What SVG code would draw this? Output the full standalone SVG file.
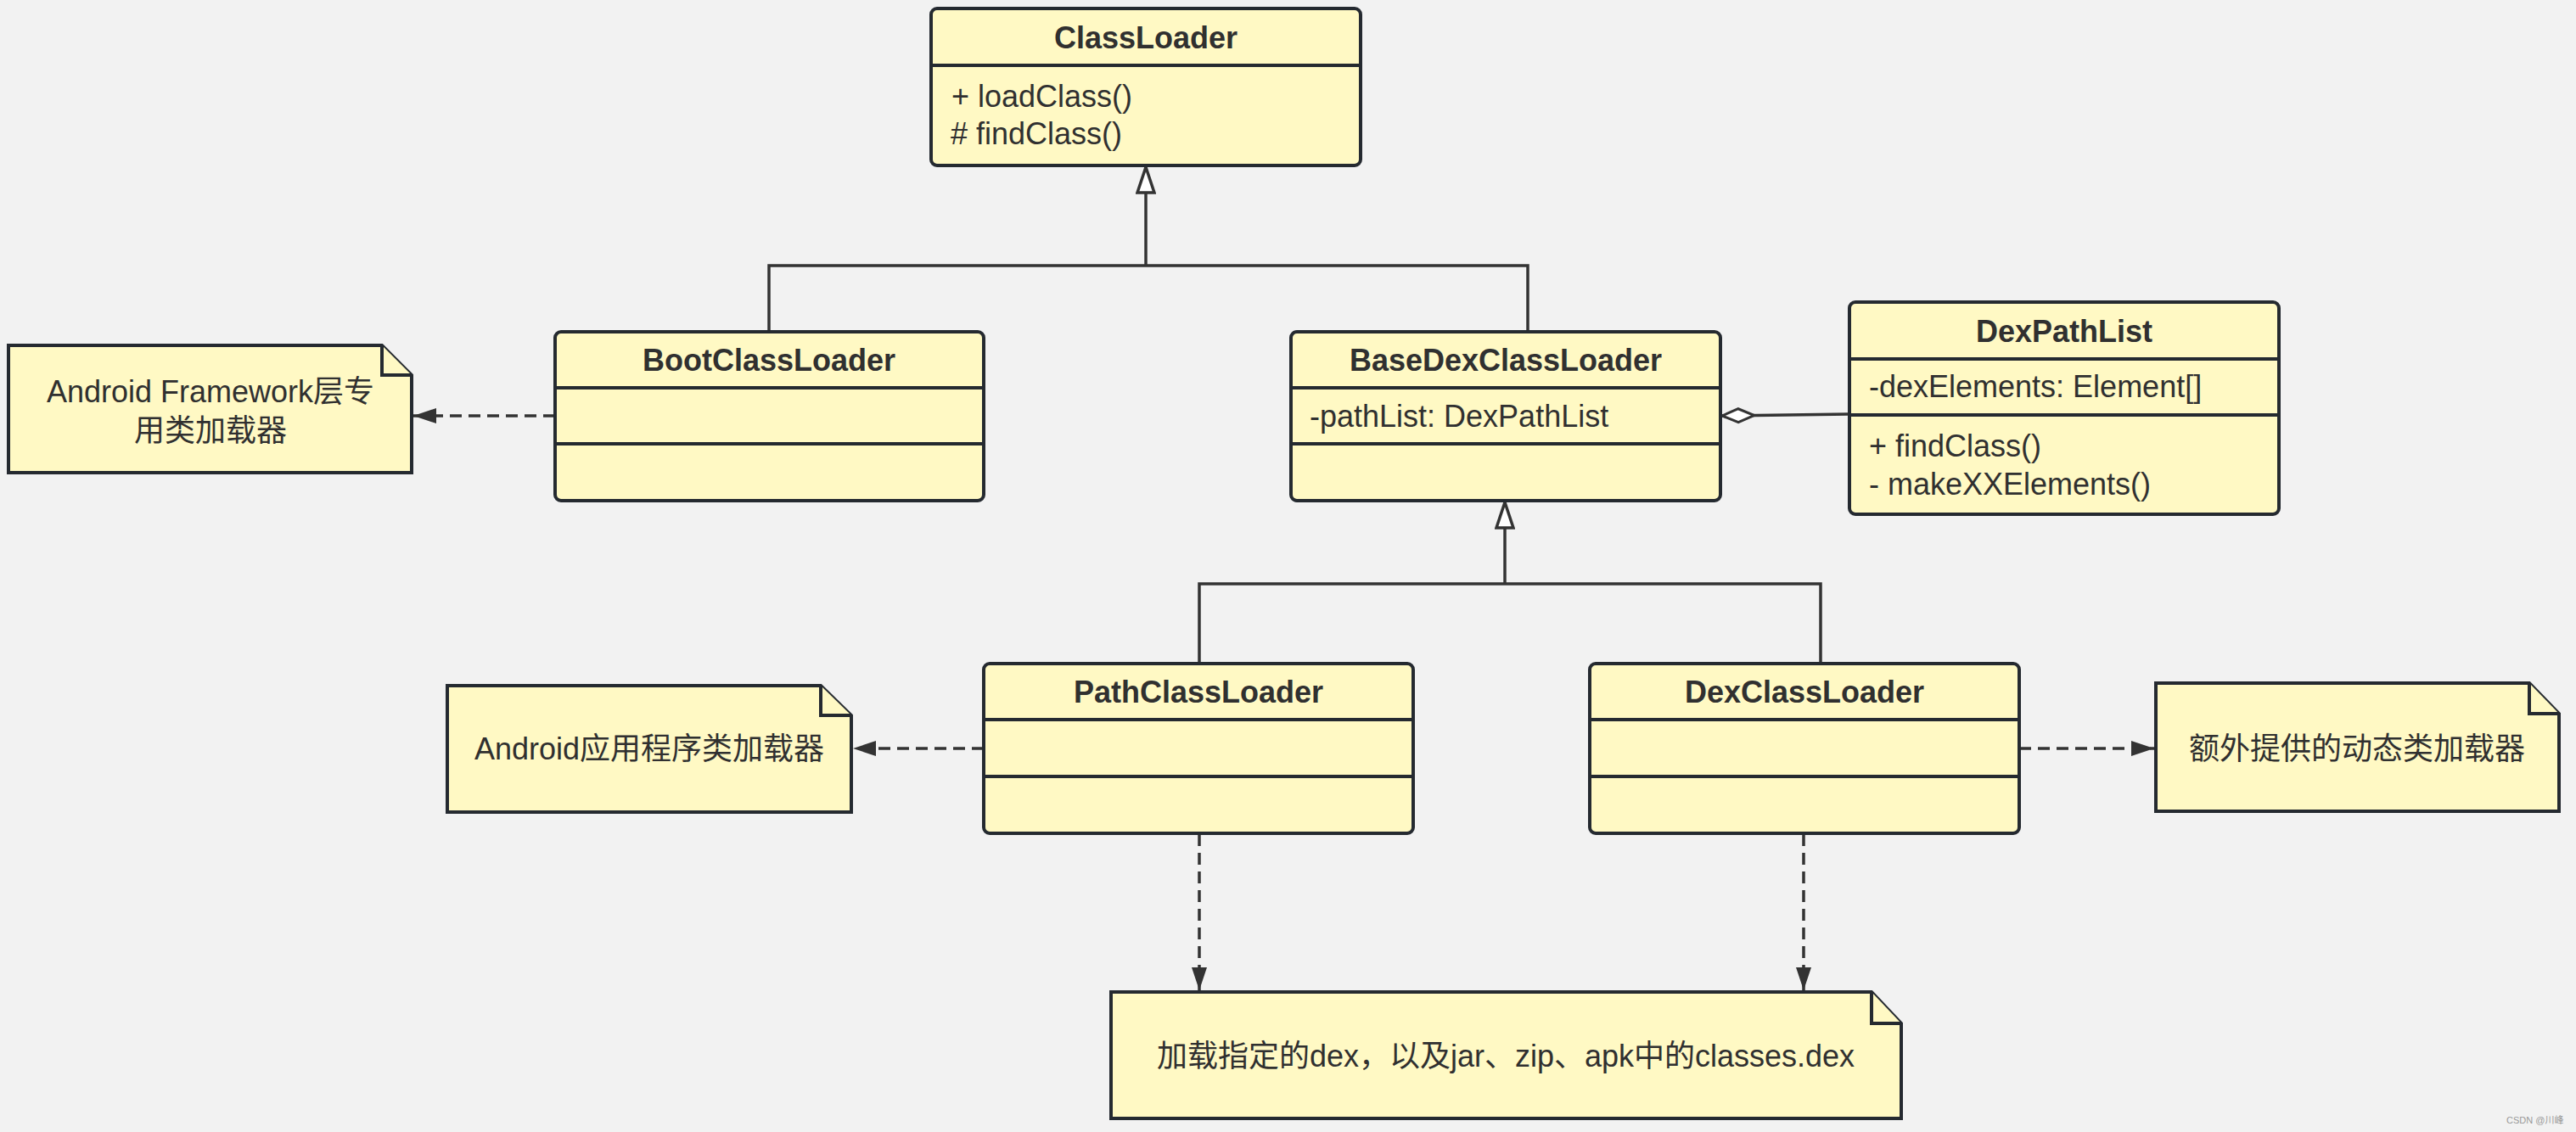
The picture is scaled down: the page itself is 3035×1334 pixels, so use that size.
<svg xmlns="http://www.w3.org/2000/svg" width="3035" height="1334" viewBox="0 0 3035 1334">
<style>
.box{fill:#fff9c4;stroke:#252a30;stroke-width:4}
.div{stroke:#252a30;stroke-width:4}
.title{font-family:"Liberation Sans","Noto Sans CJK SC",sans-serif;font-size:36px;font-weight:bold;fill:#303030;text-anchor:middle}
.mem{font-family:"Liberation Sans","Noto Sans CJK SC",sans-serif;font-size:36px;fill:#303030}
.note{font-family:"Liberation Sans","Noto Sans CJK SC",sans-serif;font-size:36px;fill:#303030;text-anchor:middle}
.conn{fill:none;stroke:#333;stroke-width:3.5}
.dash{stroke-dasharray:14 8}
</style>
<defs>
<marker id="gen" viewBox="0 0 34 24" refX="32" refY="12" markerWidth="34" markerHeight="24" markerUnits="userSpaceOnUse" orient="auto">
<path d="M2,2 L32,12 L2,22 Z" fill="#ffffff" stroke="#333" stroke-width="3.5"/>
</marker>
<marker id="arr" viewBox="0 0 27 18" refX="27" refY="9" markerWidth="27" markerHeight="18" markerUnits="userSpaceOnUse" orient="auto">
<path d="M0,0 L27,9 L0,18 Z" fill="#333"/>
</marker>
<marker id="dia" viewBox="0 0 42 22" refX="40" refY="11" markerWidth="42" markerHeight="22" markerUnits="userSpaceOnUse" orient="auto">
<path d="M2,11 L21,3 L40,11 L21,19 Z" fill="#ffffff" stroke="#333" stroke-width="3"/>
</marker>
</defs>
<rect width="3035" height="1334" fill="#f2f2f2"/>

<g id="connectors">
<path class="conn" d="M906,391 V313 H1800 V391"/>
<path class="conn" d="M1350,313 V197" marker-end="url(#gen)"/>
<path class="conn" d="M1413,782 V688 H2145 V782"/>
<path class="conn" d="M1773,688 V592" marker-end="url(#gen)"/>
<path class="conn" d="M2179,488 L2029,490" marker-end="url(#dia)"/>
<path class="conn dash" d="M654,490 H487" marker-end="url(#arr)"/>
<path class="conn dash" d="M1159,882 H1005" marker-end="url(#arr)"/>
<path class="conn dash" d="M2379,882 H2538" marker-end="url(#arr)"/>
<path class="conn dash" d="M1413,983 V1167" marker-end="url(#arr)"/>
<path class="conn dash" d="M2125,983 V1167" marker-end="url(#arr)"/>
</g>

<g id="ClassLoader">
<rect class="box" x="1097" y="10" width="506" height="185" rx="7"/>
<line class="div" x1="1097" y1="77" x2="1603" y2="77"/>
<text class="title" x="1350" y="57">ClassLoader</text>
<text class="mem" x="1121" y="126">+ loadClass()</text>
<text class="mem" x="1120" y="170"># findClass()</text>
</g>

<g id="BootClassLoader">
<rect class="box" x="654" y="391" width="505" height="199" rx="7"/>
<line class="div" x1="654" y1="457" x2="1159" y2="457"/>
<line class="div" x1="654" y1="523" x2="1159" y2="523"/>
<text class="title" x="906" y="437">BootClassLoader</text>
</g>

<g id="BaseDexClassLoader">
<rect class="box" x="1521" y="391" width="506" height="199" rx="7"/>
<line class="div" x1="1521" y1="457" x2="2027" y2="457"/>
<line class="div" x1="1521" y1="523" x2="2027" y2="523"/>
<text class="title" x="1774" y="437">BaseDexClassLoader</text>
<text class="mem" x="1543" y="503">-pathList: DexPathList</text>
</g>

<g id="DexPathList">
<rect class="box" x="2179" y="356" width="506" height="250" rx="7"/>
<line class="div" x1="2179" y1="423" x2="2685" y2="423"/>
<line class="div" x1="2179" y1="489" x2="2685" y2="489"/>
<text class="title" x="2432" y="403">DexPathList</text>
<text class="mem" x="2202" y="468">-dexElements: Element[]</text>
<text class="mem" x="2202" y="538">+ findClass()</text>
<text class="mem" x="2202" y="583">- makeXXElements()</text>
</g>

<g id="PathClassLoader">
<rect class="box" x="1159" y="782" width="506" height="200" rx="7"/>
<line class="div" x1="1159" y1="848" x2="1665" y2="848"/>
<line class="div" x1="1159" y1="915" x2="1665" y2="915"/>
<text class="title" x="1412" y="828">PathClassLoader</text>
</g>

<g id="DexClassLoader">
<rect class="box" x="1873" y="782" width="506" height="200" rx="7"/>
<line class="div" x1="1873" y1="848" x2="2379" y2="848"/>
<line class="div" x1="1873" y1="915" x2="2379" y2="915"/>
<text class="title" x="2126" y="828">DexClassLoader</text>
</g>

<g id="note-framework">
<path class="box" d="M10,407 H450 L485,442 V557 H10 Z"/>
<path class="box" d="M450,407 V442 H485"/>
<text class="note" x="248" y="474">Android Framework层专</text>
<text class="note" x="248" y="520">用类加载器</text>
</g>

<g id="note-app">
<path class="box" d="M527,808 H967 L1003,843 V957 H527 Z"/>
<path class="box" d="M967,808 V843 H1003"/>
<text class="note" x="765" y="895">Android应用程序类加载器</text>
</g>

<g id="note-dynamic">
<path class="box" d="M2540,805 H2980 L3015,841 V956 H2540 Z"/>
<path class="box" d="M2980,805 V841 H3015"/>
<text class="note" x="2777" y="895">额外提供的动态类加载器</text>
</g>

<g id="note-dex">
<path class="box" d="M1309,1169 H2205 L2240,1206 V1318 H1309 Z"/>
<path class="box" d="M2205,1169 V1206 H2240"/>
<text class="note" x="1774" y="1257">加载指定的dex，以及jar、zip、apk中的classes.dex</text>
</g>

<text x="2953" y="1324" font-family="'Liberation Sans','Noto Sans CJK SC',sans-serif" font-size="11" fill="#999">CSDN @川峰</text>
</svg>
